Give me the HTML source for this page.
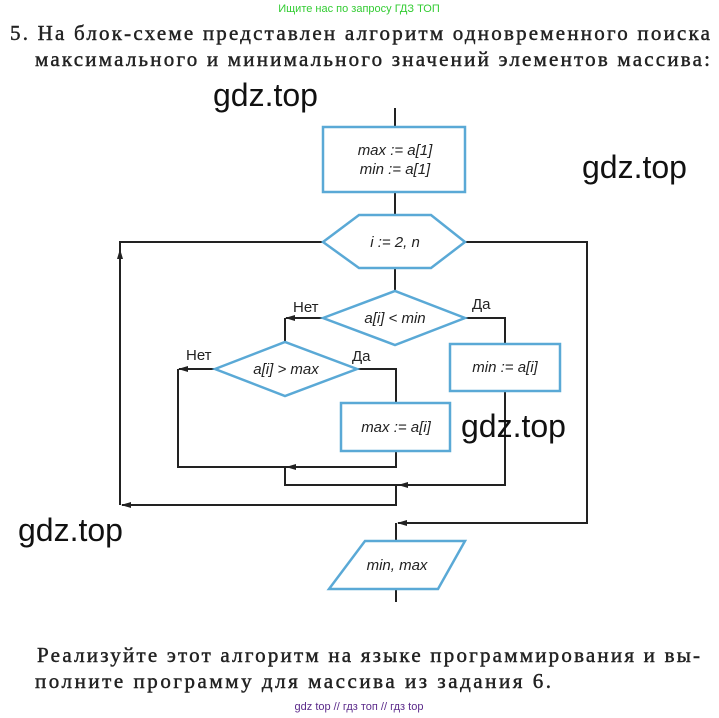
<!DOCTYPE html>
<html><head><meta charset="utf-8"><style>
html,body{margin:0;padding:0;background:#fff;}
svg{display:block;}
.s{font-family:"Liberation Serif",serif;font-size:21px;fill:#222;stroke:#222;stroke-width:0.45;}
.m{font-family:"Liberation Sans",sans-serif;font-size:15px;font-style:italic;fill:#222;}
.l{font-family:"Liberation Sans",sans-serif;font-size:15px;fill:#222;}
.w{font-family:"Liberation Sans",sans-serif;font-size:32px;fill:#111;}
.b{fill:#fff;stroke:#5aa9d6;stroke-width:2.5;}
.c{fill:none;stroke:#222;stroke-width:2;}
</style></head><body>
<svg width="719" height="718" viewBox="0 0 719 718">
<defs><marker id="a" markerWidth="10" markerHeight="8" refX="9" refY="4" orient="auto" markerUnits="userSpaceOnUse"><path d="M0,1 L10,4 L0,7 Z" fill="#222"/></marker></defs>
<text x="359" y="12" text-anchor="middle" font-family="Liberation Sans,sans-serif" font-size="11" fill="#33cc33">Ищите нас по запросу ГДЗ ТОП</text>
<text class="s" x="10" y="40" textLength="700" lengthAdjust="spacing">5. На блок-схеме представлен алгоритм одновременного поиска</text>
<text class="s" x="35" y="66" textLength="675" lengthAdjust="spacing">максимального и минимального значений элементов массива:</text>
<text class="s" x="37" y="662" textLength="663" lengthAdjust="spacing">Реализуйте этот алгоритм на языке программирования и вы-</text>
<text class="s" x="35" y="688" textLength="516" lengthAdjust="spacing">полните программу для массива из задания 6.</text>
<text x="359" y="710" text-anchor="middle" font-family="Liberation Sans,sans-serif" font-size="11" fill="#5b2a8a">gdz top  //  гдз топ  //  гдз top</text>

<path class="c" d="M395,108 V127 M395,192 V215 M395,268 V291"/>
<path class="c" d="M323,242 H120 V505" />
<path class="c" d="M120,505 V250" marker-end="url(#a)"/>
<path class="c" d="M465,242 H587 V523 H398" marker-end="url(#a)"/>
<path class="c" d="M396,523 V602 M396,523 V541"/>
<path class="c" d="M323,318 H286" marker-end="url(#a)"/>
<path class="c" d="M285,318 V343"/>
<path class="c" d="M465,318 H505 V345"/>
<path class="c" d="M215,369 H179" marker-end="url(#a)"/>
<path class="c" d="M178,369 V467 H396 V451"/>
<path class="c" d="M357,369 H396 V403"/>
<path class="c" d="M396,467 H287" marker-end="url(#a)"/>
<path class="c" d="M285,467 V485 H505 V391"/>
<path class="c" d="M505,485 H399" marker-end="url(#a)"/>
<path class="c" d="M396,485 V505 H122" marker-end="url(#a)"/>

<rect class="b" x="323" y="127" width="142" height="65"/>
<text class="m" x="395" y="155" text-anchor="middle">max := a[1]</text>
<text class="m" x="395" y="174" text-anchor="middle">min := a[1]</text>
<polygon class="b" points="323,242 359,215 431,215 465,242 431,268 359,268"/>
<text class="m" x="395" y="247" text-anchor="middle">i := 2, n</text>
<polygon class="b" points="323,318 395,291 465,318 395,345"/>
<text class="m" x="395" y="323" text-anchor="middle">a[i] &lt; min</text>
<polygon class="b" points="215,369 285,342 357,369 285,396"/>
<text class="m" x="286" y="374" text-anchor="middle">a[i] &gt; max</text>
<rect class="b" x="450" y="344" width="110" height="47"/>
<text class="m" x="505" y="372" text-anchor="middle">min := a[i]</text>
<rect class="b" x="341" y="403" width="109" height="48"/>
<text class="m" x="396" y="432" text-anchor="middle">max := a[i]</text>
<polygon class="b" points="365,541 465,541 438,589 329,589"/>
<text class="m" x="397" y="570" text-anchor="middle">min, max</text>

<text class="l" x="293" y="312">Нет</text>
<text class="l" x="472" y="309">Да</text>
<text class="l" x="186" y="360">Нет</text>
<text class="l" x="352" y="361">Да</text>

<text class="w" x="213" y="106">gdz.top</text>
<text class="w" x="582" y="178">gdz.top</text>
<text class="w" x="461" y="437">gdz.top</text>
<text class="w" x="18" y="541">gdz.top</text>
</svg>
</body></html>
